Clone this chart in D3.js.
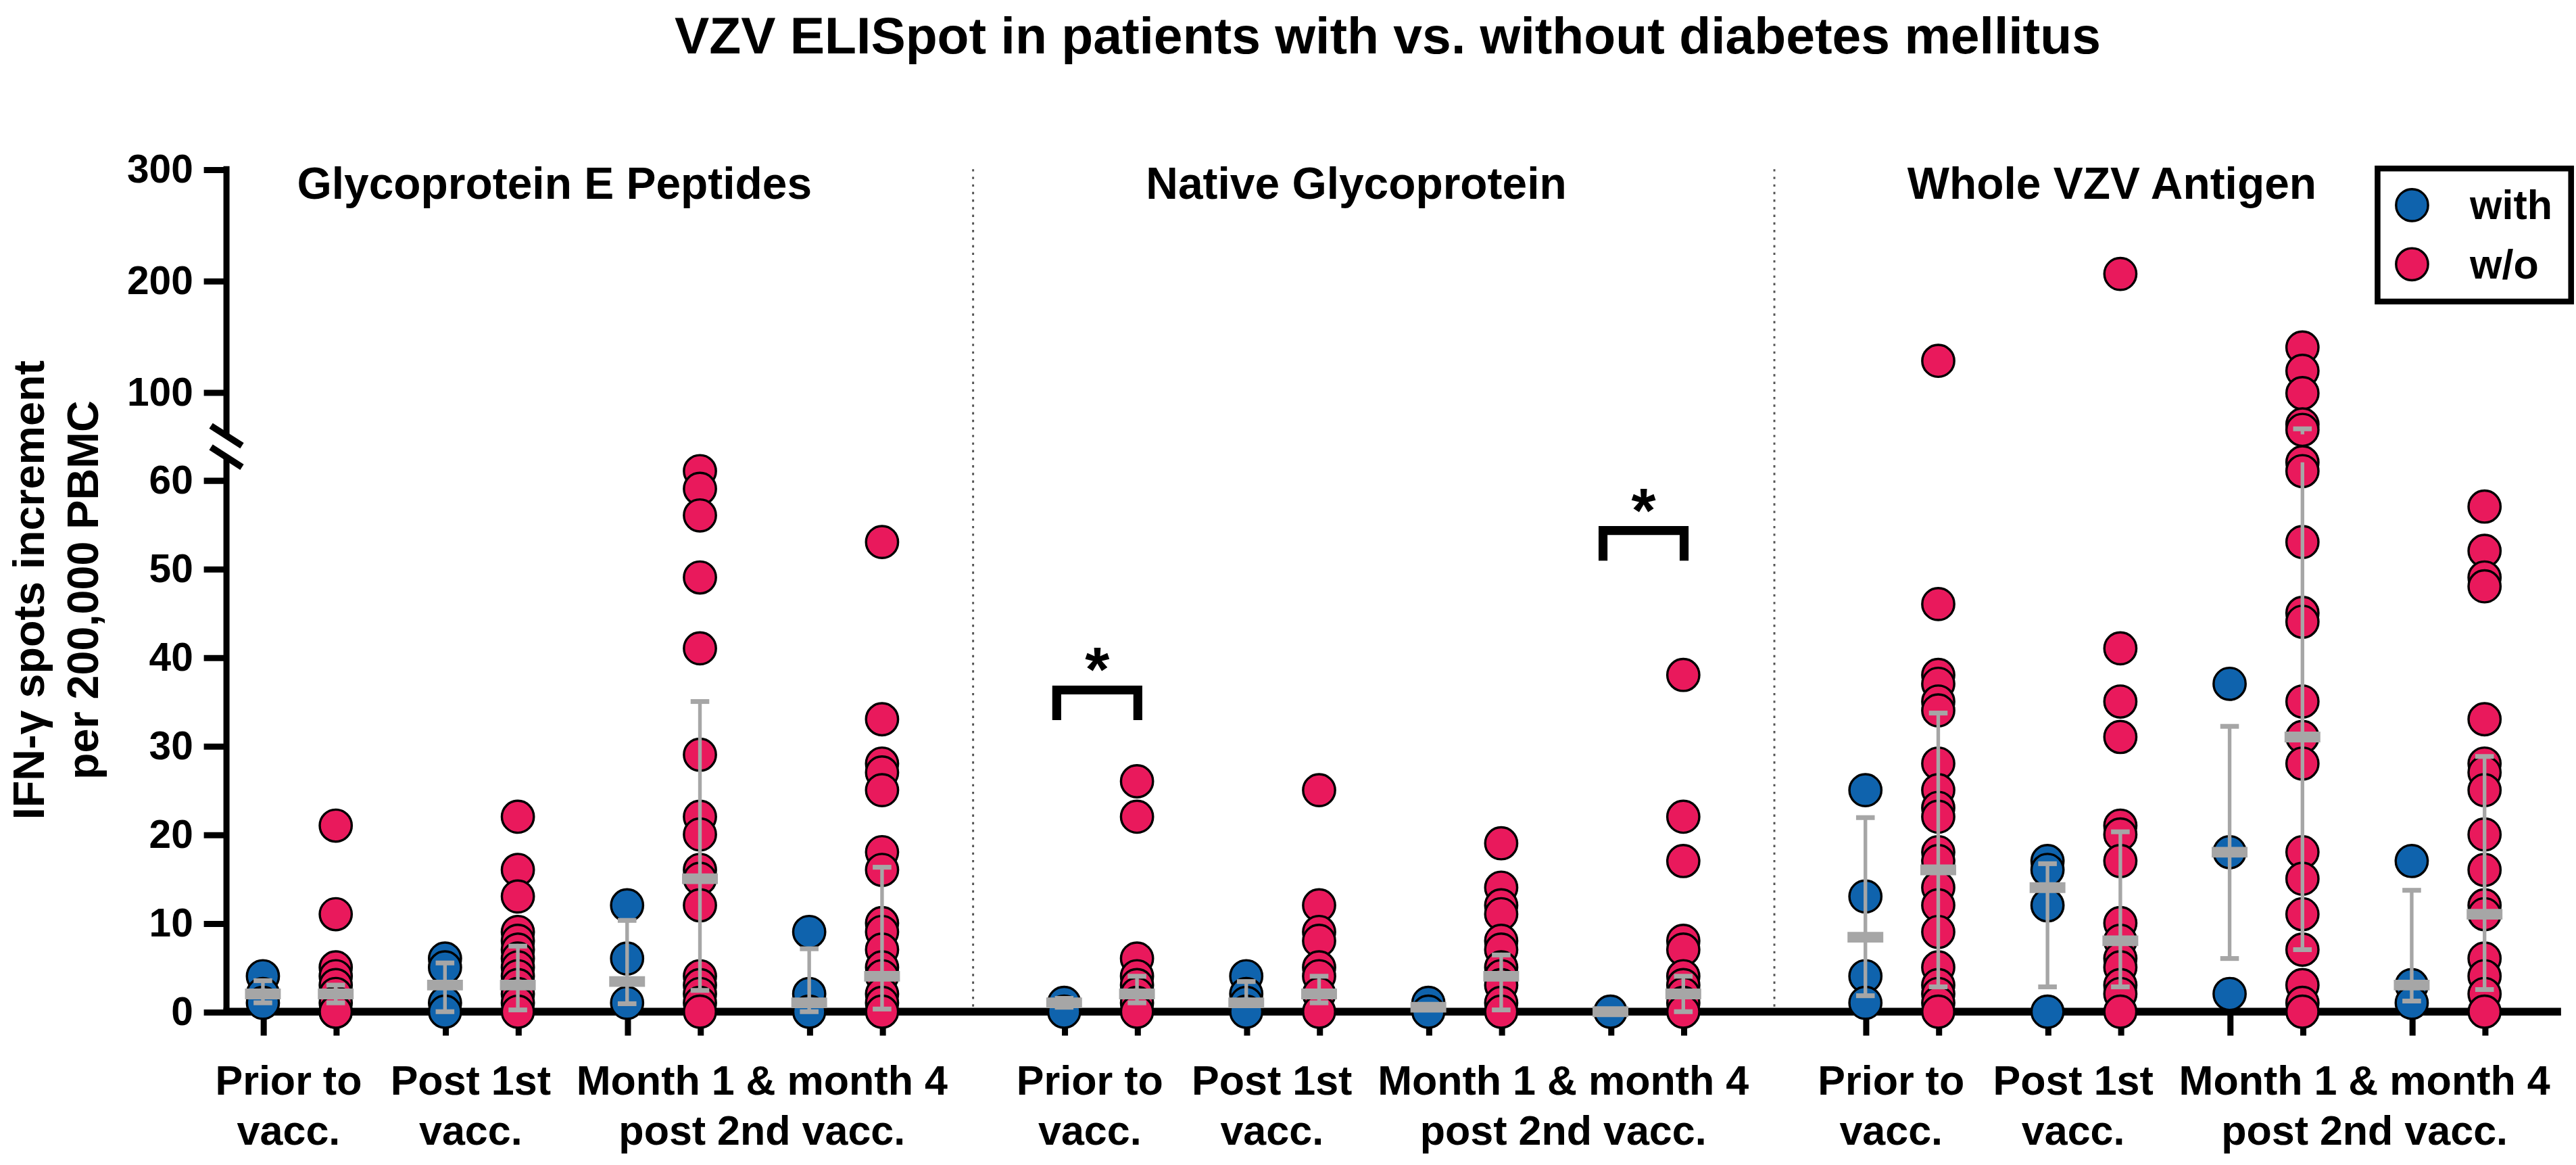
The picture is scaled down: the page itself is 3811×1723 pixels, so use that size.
<!DOCTYPE html>
<html>
<head>
<meta charset="utf-8">
<script src="https://cdn.jsdelivr.net/npm/d3@7"></script>
<style>
  html, body { margin: 0; padding: 0; background: #fff; }
  svg { display: block; }
  text { font-family: "Liberation Sans", Arial, sans-serif; font-weight: bold; fill: #000; }
</style>
</head>
<body>
<svg id="chart"></svg>
<script>
// ---- data ----
const title = "VZV ELISpot in patients with vs. without diabetes mellitus";
const panels = ["Glycoprotein E Peptides", "Native Glycoprotein", "Whole VZV Antigen"];
const timepoints = ["Prior", "Post 1st", "Month 1", "Month 4"];
const timeLabels = [["Prior to", "vacc."], ["Post 1st", "vacc."], ["Month 1 & month 4", "post 2nd vacc."]];
const labelSpan = [[0, 0], [1, 1], [2, 3]];
const series = ["with", "w/o"];
const yTitle = ["IFN-\u03b3 spots increment", "per 200,000 PBMC"];

// one entry per panel x timepoint (panel-major)
const withValues = [
  [4, 2, 1], [6, 5, 1, 0], [12, 6, 1], [9, 2, 0],
  [1, 0], [4, 2, 1, 0], [1, 0], [0],
  [25, 13, 4, 1], [17, 16, 12, 0], [37, 18, 2], [17, 3, 1]
];
const withoutValues = [
  [21, 11, 5, 4, 3, 2, 1, 0, 0],
  [22, 16, 13, 9, 8, 7, 6, 5, 4, 3, 2, 1, 0],
  [61, 59, 56, 49, 41, 29, 22, 20, 16, 15, 12, 4, 3, 2, 1, 0],
  [53, 33, 28, 27, 25, 18, 16, 10, 9, 7, 5, 4, 2, 1, 0],
  [26, 22, 6, 4, 3, 2, 1, 0],
  [25, 12, 9, 8, 5, 4, 2, 0],
  [19, 14, 12, 11, 8, 7, 5, 4, 3, 1, 0],
  [38, 22, 17, 8, 7, 4, 3, 2, 1, 0],
  [128, 46, 38, 37, 35, 34, 28, 25, 23, 22, 18, 17, 14, 12, 9, 5, 3, 2, 1, 0],
  [206, 41, 35, 31, 21, 20, 17, 10, 8, 6, 5, 3, 2, 0],
  [140, 119, 99, 71, 66, 62, 61, 53, 45, 44, 35, 31, 28, 18, 15, 11, 7, 3, 1, 0],
  [57, 52, 49, 48, 33, 28, 27, 25, 20, 16, 12, 11, 6, 4, 2, 0]
];
const withMedian = [2, 3, 3.4, 1, 1, 1, 0.5, 0, 8.4, 14, 18, 3];
const withLow    = [1, 0, 0.9, 0, 0.5, 1, 0.5, 0, 1.8, 2.8, 6, 1.2];
const withHigh   = [3.5, 5.5, 10.3, 7.1, 1.5, 3.4, 0.5, 0, 21.9, 16.7, 32.2, 13.7];
const withoutMedian = [2, 3, 15, 4, 2, 2, 4, 2, 16, 8, 31, 11];
const withoutLow    = [1, 0.2, 2.4, 0.3, 1, 1, 0.2, 0, 2.8, 2.8, 7, 2.5];
const withoutHigh   = [3, 7.4, 35, 16.3, 4, 4, 6.4, 4, 33.7, 20.3, 67, 28.8];

const lowerTicks = [0, 10, 20, 30, 40, 50, 60];
const upperTicks = [100, 200, 300];

// significance brackets (panel, timepoint, heights in axis units)
const sigPanel = [1, 1];
const sigTime = [0, 3];
const sigTop = [36.3, 54.3];
const sigFoot = [32.9, 50.9];
const sigStar = [40.2, 58.1];

// ---- layout ----
const W = 1561.2, H = 705.9;
const colors = ["#0f63ad", "#e9195c"];
const gray = "#a6a6a6";
const panelTitleX = [336, 822, 1280];
const labelShift = [-6.5, -6.5, 4.5];

const svg = d3.select("#chart")
  .attr("width", 3811).attr("height", 1723)
  .attr("viewBox", `0 0 ${W} ${H}`);

const slot = (p, t, g) => p * 22 + t * 5 + g * 2;
const x = d3.scaleLinear().domain([-1, 63.1]).range([137.2, 1552.2]);
const BREAK = 62;
const yLow = d3.scaleLinear().domain([0, BREAK]).range([613, 280.1]);
const yHigh = d3.scaleLinear().domain([BREAK, 300]).range([263.2, 102.5]);
const y = v => v <= BREAK ? yLow(v) : yHigh(v);

// title
svg.append("text").attr("x", 841).attr("y", 32.5).attr("text-anchor", "middle")
  .attr("font-size", 31.5).text(title);

// panel titles
svg.selectAll(".ptitle").data(panels).join("text").attr("class", "ptitle")
  .attr("x", (d, i) => panelTitleX[i]).attr("y", 120.5)
  .attr("text-anchor", "middle").attr("font-size", 27).text(d => d);

// dotted dividers
svg.selectAll(".divider").data([19.5, 41.5]).join("line").attr("class", "divider")
  .attr("x1", d => x(d)).attr("x2", d => x(d)).attr("y1", yHigh(300)).attr("y2", yLow(0))
  .attr("stroke", "#555").attr("stroke-width", 1.2).attr("stroke-dasharray", "1.4 3.2");

// y axes (two segments)
const axLow = svg.append("g").attr("transform", `translate(${x(-1)},0)`)
  .call(d3.axisLeft(yLow).tickValues(lowerTicks).tickSize(13.7).tickPadding(6.5));
const axHigh = svg.append("g").attr("transform", `translate(${x(-1)},0)`)
  .call(d3.axisLeft(yHigh).tickValues(upperTicks).tickSize(13.7).tickPadding(6.5));
[axLow, axHigh].forEach(g => {
  g.attr("font-size", 24).attr("font-family", null);
  g.select(".domain").remove();
  g.selectAll(".tick line").attr("stroke", "#000").attr("stroke-width", 3.7);
  g.selectAll(".tick text").attr("fill", "#000");
});
// axis lines with break
svg.append("line").attr("x1", x(-1)).attr("x2", x(-1)).attr("y1", yLow(0)).attr("y2", 277)
  .attr("stroke", "#000").attr("stroke-width", 3.7);
svg.append("line").attr("x1", x(-1)).attr("x2", x(-1)).attr("y1", 264).attr("y2", yHigh(300) - 1.85)
  .attr("stroke", "#000").attr("stroke-width", 3.7);
svg.selectAll(".brk").data([258, 271]).join("line").attr("class", "brk")
  .attr("x1", x(-1) - 9.4).attr("x2", x(-1) + 9.4)
  .attr("y1", d => d).attr("y2", d => d + 12)
  .attr("stroke", "#000").attr("stroke-width", 4);

// x axis
const allSlots = [];
panels.forEach((p, pi) => timepoints.forEach((t, ti) => series.forEach((s, gi) => allSlots.push(slot(pi, ti, gi)))));
const axX = svg.append("g").attr("transform", `translate(0,${yLow(0)})`)
  .call(d3.axisBottom(x).tickValues(allSlots).tickSize(14.5).tickFormat(""));
axX.select(".domain").remove();
axX.selectAll(".tick line").attr("stroke", "#000").attr("stroke-width", 3.7);
svg.append("line").attr("x1", x(-1) - 1.85).attr("x2", x(63.1)).attr("y1", yLow(0)).attr("y2", yLow(0))
  .attr("stroke", "#000").attr("stroke-width", 4.7);

// x labels
const labels = [];
panels.forEach((p, pi) => timeLabels.forEach((lab, li) => {
  const cx = (x(slot(pi, labelSpan[li][0], 0)) + x(slot(pi, labelSpan[li][1], 1))) / 2 + labelShift[li];
  labels.push({ cx, lab });
}));
const lab = svg.selectAll(".xlab").data(labels).join("text").attr("class", "xlab")
  .attr("text-anchor", "middle").attr("font-size", 25);
lab.append("tspan").attr("x", d => d.cx).attr("y", 663.5).text(d => d.lab[0]);
lab.append("tspan").attr("x", d => d.cx).attr("y", 693.5).text(d => d.lab[1]);

// y title
const yt = svg.append("g").attr("transform", "rotate(-90)");
yt.selectAll("text").data(yTitle).join("text")
  .attr("x", -357.5).attr("y", (d, i) => i === 0 ? 26.5 : 59.5)
  .attr("text-anchor", "middle").attr("font-size", 26.5).text(d => d);

// points
const pts = [];
const stats = [];
[withValues, withoutValues].forEach((vals, gi) => {
  const med = gi === 0 ? withMedian : withoutMedian;
  const lo = gi === 0 ? withLow : withoutLow;
  const hi = gi === 0 ? withHigh : withoutHigh;
  vals.forEach((arr, k) => {
    const pi = Math.floor(k / 4), ti = k % 4;
    arr.forEach(v => pts.push({ s: slot(pi, ti, gi), v, gi }));
    stats.push({ s: slot(pi, ti, gi), med: med[k], lo: lo[k], hi: hi[k] });
  });
});
svg.append("g").selectAll("circle").data(pts).join("circle")
  .attr("cx", d => x(d.s)).attr("cy", d => y(d.v)).attr("r", 9.7)
  .attr("fill", d => colors[d.gi]).attr("stroke", "#000").attr("stroke-width", 1.4);

// error bars + median
const eb = svg.append("g");
stats.forEach(d => {
  const cx = x(d.s);
  const segs = (d.lo < BREAK && d.hi > BREAK)
    ? [[y(d.lo), yLow(BREAK)], [yHigh(BREAK), y(d.hi)]]
    : [[y(d.lo), y(d.hi)]];
  if (d.hi > d.lo) {
    segs.forEach(sg => eb.append("line").attr("x1", cx).attr("x2", cx).attr("y1", sg[0]).attr("y2", sg[1])
      .attr("stroke", gray).attr("stroke-width", 2.2));
    [d.lo, d.hi].forEach(v => eb.append("line").attr("x1", cx - 5.65).attr("x2", cx + 5.65)
      .attr("y1", y(v)).attr("y2", y(v)).attr("stroke", gray).attr("stroke-width", 2.9));
  }
  eb.append("line").attr("x1", cx - 10.85).attr("x2", cx + 10.85)
    .attr("y1", y(d.med)).attr("y2", y(d.med)).attr("stroke", gray).attr("stroke-width", 6.5);
});

// significance brackets
sigPanel.forEach((p, i) => {
  const xl = x(slot(p, sigTime[i], 0)) - 4.5;
  const xr = x(slot(p, sigTime[i], 1)) + 0.5;
  svg.append("path")
    .attr("d", `M${xl},${y(sigFoot[i])}V${y(sigTop[i])}H${xr}V${y(sigFoot[i])}`)
    .attr("fill", "none").attr("stroke", "#000").attr("stroke-width", 5.4);
  svg.append("text").attr("x", (xl + xr) / 2).attr("y", y(sigStar[i]) + 21.5)
    .attr("text-anchor", "middle").attr("font-size", 38).text("*");
});

// legend
const lg = svg.append("g");
lg.append("rect").attr("x", 1441).attr("y", 102.1).attr("width", 117.3).attr("height", 80.6)
  .attr("fill", "#fff").attr("stroke", "#000").attr("stroke-width", 3.5);
series.forEach((s, i) => {
  const cy = i === 0 ? 124.3 : 160.1;
  lg.append("circle").attr("cx", 1461.9).attr("cy", cy).attr("r", 9.7)
    .attr("fill", colors[i]).attr("stroke", "#000").attr("stroke-width", 1.4);
  lg.append("text").attr("x", 1497).attr("y", cy + 8.6).attr("font-size", 25).text(s);
});
</script>
</body>
</html>
